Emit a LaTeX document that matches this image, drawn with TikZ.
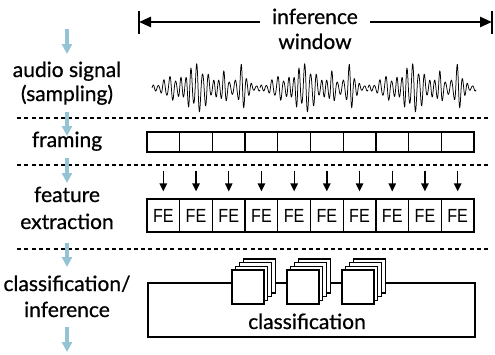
\documentclass[tikz,border=0pt]{standalone}
\usepackage{fontspec}
\usepackage{graphicx}
\setmainfont{Lato}[RawFeature={embolden=0.7}]
\newfontfamily\fefont{Liberation Sans}[RawFeature={extend=0.85}]
\usetikzlibrary{arrows.meta}
\definecolor{flowblue}{HTML}{94C3D4}
\begin{document}
\begin{tikzpicture}[x=1pt,y=-1pt,
  lab/.style={font=\fontsize{21}{24}\selectfont, anchor=base, inner sep=0pt},
  flow/.style={draw=flowblue, line width=3.5pt, -{Triangle[length=10pt,width=10pt]}},
  sep/.style={line width=1.2pt, dash pattern=on 4pt off 3.3pt},
  framebox/.style={draw, line width=1.3pt, minimum width=32.7pt, minimum height=20pt, inner sep=0pt},
  febox/.style={draw, line width=1.3pt, minimum width=32.7pt, minimum height=33pt, inner sep=0pt, font=\fefont\fontsize{19}{19}\selectfont},
  smallarr/.style={line width=1.3pt, -{Triangle[length=8pt,width=7.5pt]}},
  winarr/.style={line width=2.6pt, -{Triangle[length=12pt,width=10pt]}},
  winbar/.style={line width=2.6pt},
  wave/.style={line width=0.75pt, line join=round},
  stackbox/.style={draw, fill=white, line width=1.2pt},
  clsbox/.style={draw, line width=1.2pt, minimum width=327pt, minimum height=54pt, inner sep=0pt}]
\useasboundingbox (0,0) rectangle (495,354);

% separators
\coordinate (s1l) at (17,118); \coordinate (s1r) at (490,118);
\coordinate (s2l) at (17,165); \coordinate (s2r) at (490,165);
\coordinate (s3l) at (17,249); \coordinate (s3r) at (490,249);
\draw[sep] (s1l) -- (s1r);
\draw[sep] (s2l) -- (s2r);
\draw[sep] (s3l) -- (s3r);

% left labels
\node[lab] (l1a) at (67,77) {audio signal};
\node[lab] (l1b) at (67,101) {(sampling)};
\node[lab] (l2) at (67,147) {framing};
\node[lab] (l3a) at (67,202) {feature};
\node[lab] (l3b) at (67,229) {extraction};
\node[lab] (l4a) at (67,291) {classification/};
\node[lab] (l4b) at (67,317) {inference};

% flow arrows
\coordinate (f1a) at (67,29);  \coordinate (f1b) at (67,54);
\coordinate (f2a) at (67,112); \coordinate (f2b) at (67,136);
\coordinate (f3a) at (67,158); \coordinate (f3b) at (67,183);
\coordinate (f4a) at (67,243); \coordinate (f4b) at (67,267);
\coordinate (f5a) at (67,327); \coordinate (f5b) at (67,352);
\draw[flow] (f1a) -- (f1b);
\draw[flow] (f2a) -- (f2b);
\draw[flow] (f3a) -- (f3b);
\draw[flow] (f4a) -- (f4b);
\draw[flow] (f5a) -- (f5b);

% inference window
\node[lab] (inf) at (315,24) {inference};
\node[lab] (win) at (315,49) {window};
\coordinate (wl) at (139,22); \coordinate (wr) at (492,22);
\coordinate (wlt) at (139,11); \coordinate (wlb) at (139,34);
\coordinate (wrt) at (492,11); \coordinate (wrb) at (492,34);
\draw[winbar] (wlt) -- (wlb);
\draw[winbar] (wrt) -- (wrb);
\draw[winarr] ([xshift=-12pt]inf.west |- wl) -- (wl);
\draw[winarr] ([xshift=12pt]inf.east |- wr) -- (wr);

% waveform
\foreach \s in {0,1,2}{
  \draw[wave] plot[domain=0:108, samples=320, variable=\t]
    ({152+108*\s+\t},
     {88 - (3 + 10*exp(-((\t-18)/8)^2) + 24*exp(-((\t-45)/14)^2) + 14*exp(-((\t-72)/6)^2) + 22*exp(-((\t-90)/6)^2))
          *(0.8+0.2*sin(41*\t))*sin(66*\t + 35*sin(11*\t))});
}

% framing
\foreach \i in {0,...,9}{
  \node[framebox] (fr\i) at ({147+32.7*\i+16.35},142) {};
  \node[febox] (fe\i) at ({147+32.7*\i+16.35},215.5) {FE};
  \draw[smallarr] ([yshift=-18pt]fr\i.south) -- ([yshift=7pt]fe\i.north);
}

% classification
\node[clsbox] (cls) at (311.5,310) {};
\node[lab] (clstxt) at (307,329) {classification};
\foreach \k in {0,1,2}{
  \foreach \j in {3,2,1,0}{
    \draw[stackbox] ({232+55*\k+3.7*\j},{270-3.7*\j}) rectangle ++(32,34);
  }
}
\end{tikzpicture}
\end{document}
